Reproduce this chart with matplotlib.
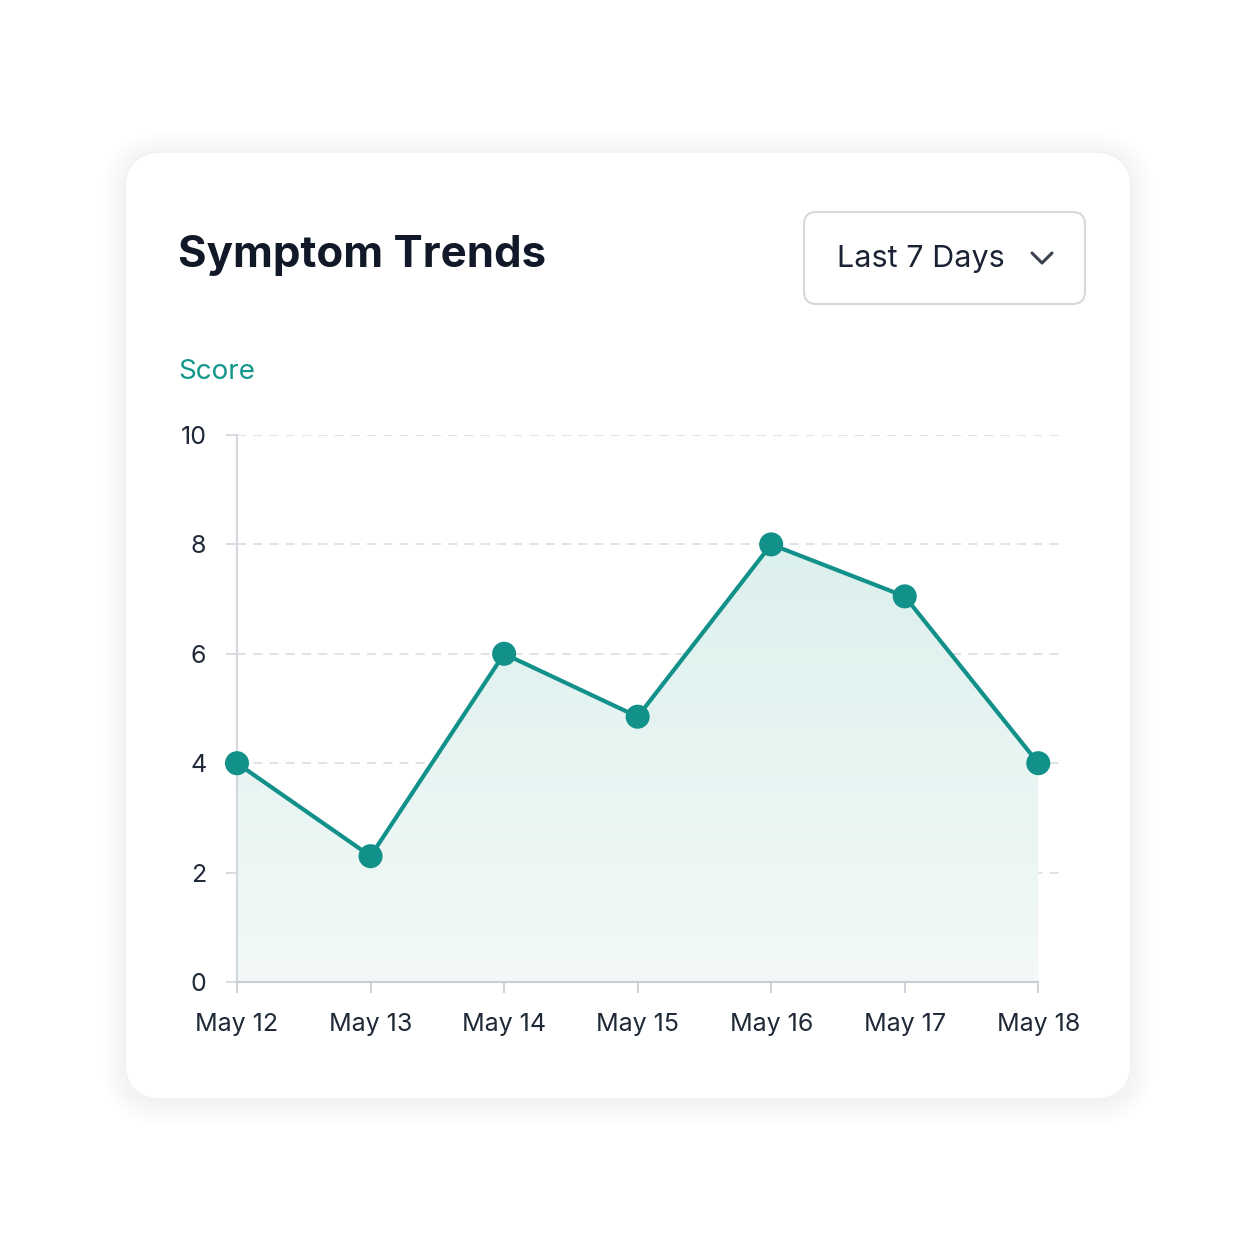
import matplotlib
matplotlib.use("Agg")
import matplotlib.pyplot as plt
import numpy as np
from matplotlib.patches import FancyBboxPatch
from matplotlib.lines import Line2D
from matplotlib.colors import LinearSegmentedColormap

dates = ["May 12", "May 13", "May 14", "May 15", "May 16", "May 17", "May 18"]
scores = [4.0, 2.3, 6.0, 4.85, 8.0, 7.05, 4.0]
yticks = [0, 2, 4, 6, 8, 10]

plt.rcParams['font.family'] = ['Inter', 'DejaVu Sans']
W = 1254
fig = plt.figure(figsize=(12.54, 12.54), dpi=100)
fig.patch.set_facecolor('white')

def fx(px): return px / W
def fy(py): return 1 - py / W

# soft shadow + card
for i in range(6):
    d = 2 + i * 4
    fig.patches.append(FancyBboxPatch((fx(125 - d), fy(1099 + d + 3)), fx(1006 + 2 * d), (947 + 2 * d) / W,
                                      boxstyle="round,pad=0,rounding_size=%f" % (0.03 + d / W), transform=fig.transFigure,
                                      facecolor='black', edgecolor='none', alpha=0.006, zorder=0))
fig.patches.append(FancyBboxPatch((fx(125), fy(1099)), fx(1006), 947 / W,
                                  boxstyle="round,pad=0,rounding_size=0.03", transform=fig.transFigure,
                                  facecolor='white', edgecolor='#f0f1f3', lw=1, zorder=1))
# dropdown
fig.patches.append(FancyBboxPatch((fx(804), fy(304)), fx(281), 92 / W,
                                  boxstyle="round,pad=0,rounding_size=0.01", transform=fig.transFigure,
                                  facecolor='white', edgecolor='#d5d9de', lw=1.5, zorder=2))
fig.text(fx(837), fy(259), "Last 7 Days", fontsize=22, color='#1a2233', va='center', ha='left', zorder=3)
fig.lines.append(Line2D([fx(1032), fx(1042), fx(1052)], [fy(253), fy(263), fy(253)], transform=fig.transFigure,
                        color='#3a4250', lw=2.2, solid_capstyle='round', solid_joinstyle='round', zorder=3))

fig.text(fx(178), fy(255), "Symptom Trends", fontsize=31.5, fontweight='bold', color='#111827', va='center', ha='left', zorder=3)
fig.text(fx(178), fy(372), "Score", fontsize=20, color='#13968c', va='center', ha='left', zorder=3)

ax = fig.add_axes([fx(237), fy(982), fx(1065 - 237), 547 / W], zorder=4)
ax.set_facecolor('none')
x = np.arange(len(dates))
ax.set_xlim(0, 6.2)
ax.set_ylim(0, 10)

grad = np.linspace(0, 1, 256).reshape(-1, 1)
cmap = LinearSegmentedColormap.from_list('g', ['#f2f9f8', '#dcf0ed'])
im = ax.imshow(grad, aspect='auto', cmap=cmap, extent=[0, 6, 0, 8], origin='lower', zorder=1)
poly = ax.fill_between(x, scores, 0, color='none')
im.set_clip_path(poly.get_paths()[0], transform=ax.transData)

for t in yticks[1:]:
    ax.axhline(t, color='#dde0e4', lw=1.3, ls=(0, (5, 4)), zorder=0)
ax.plot(x, scores, color='#12918a', lw=3, zorder=3, solid_joinstyle='round')
ax.scatter(x, scores, s=300, color='#12918a', zorder=4, edgecolor='none', clip_on=False)

for s in ['top', 'right']:
    ax.spines[s].set_visible(False)
ax.spines['left'].set_color('#d4d8de')
ax.spines['bottom'].set_color('#c9ced5')
ax.spines['left'].set_linewidth(1.5)
ax.spines['bottom'].set_linewidth(1.5)
ax.spines['bottom'].set_bounds(0, 6)
ax.set_xticks(x)
ax.set_xticklabels(dates)
ax.set_yticks(yticks)
ax.tick_params(axis='x', length=8, width=1.3, color='#c9ced5', labelsize=18, labelcolor='#1f2937', pad=14)
ax.tick_params(axis='y', length=8, width=1.3, color='#d4d8de', labelsize=18, labelcolor='#1f2937', pad=14)

fig.savefig('out.png', dpi=100, facecolor='white')
